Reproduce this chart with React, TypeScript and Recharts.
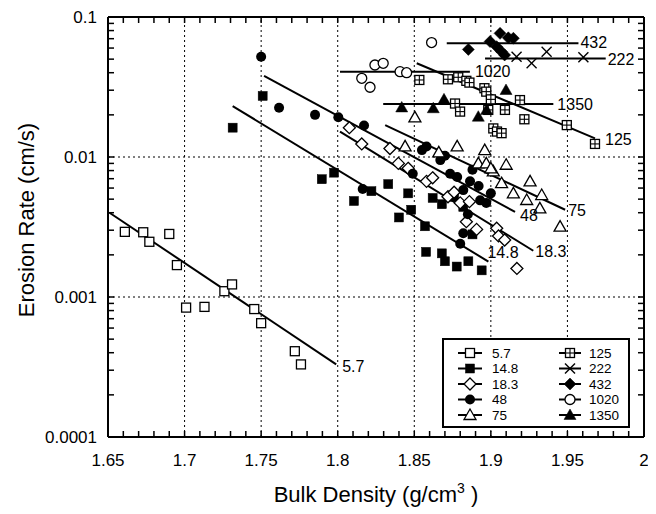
import React from 'react';
import { ComposedChart, XAxis, YAxis, Scatter, Line, LabelList, ReferenceLine } from 'recharts';

type P = [number, number];

// ---------- axis ticks ----------
const xTicks = [1.65, 1.7, 1.75, 1.8, 1.85, 1.9, 1.95, 2];
const yTicks = [0.0001, 0.001, 0.01, 0.1];
const xGrid = [1.7, 1.75, 1.8, 1.85, 1.9, 1.95];
const yGrid = [0.001, 0.01];
const xAllTicks = [
  1.65, 1.66, 1.67, 1.68, 1.69, 1.7, 1.71, 1.72, 1.73, 1.74, 1.75, 1.76, 1.77, 1.78, 1.79, 1.8,
  1.81, 1.82, 1.83, 1.84, 1.85, 1.86, 1.87, 1.88, 1.89, 1.9, 1.91, 1.92, 1.93, 1.94, 1.95,
  1.96, 1.97, 1.98, 1.99, 2,
];
const yAllTicks = [
  0.0001, 0.0002, 0.0003, 0.0004, 0.0005, 0.0006, 0.0007, 0.0008, 0.0009, 0.001,
  0.002, 0.003, 0.004, 0.005, 0.006, 0.007, 0.008, 0.009, 0.01,
  0.02, 0.03, 0.04, 0.05, 0.06, 0.07, 0.08, 0.09, 0.1,
];
const X_MIN = 1.65;
const X_MAX = 2;
const Y_MIN = 0.0001;
const Y_MAX = 0.1;

// ---------- data: [bulk density, erosion rate] ----------
const s5_7: P[] = [
  [1.661, 0.00292], [1.673, 0.0029], [1.677, 0.00248], [1.69, 0.00282], [1.695, 0.00169],
  [1.701, 0.00084], [1.713, 0.00085], [1.726, 0.0011], [1.731, 0.00123], [1.7455, 0.00082],
  [1.75, 0.00065], [1.772, 0.00041], [1.776, 0.00033],
];
const fit5_7: P[] = [[1.651, 0.004], [1.799, 0.00033]];

const s14_8: P[] = [
  [1.7314, 0.0162], [1.751, 0.0273], [1.7896, 0.00694], [1.7976, 0.00773], [1.8106, 0.00485],
  [1.822, 0.0057], [1.833, 0.0064], [1.846, 0.0055], [1.84, 0.0037], [1.848, 0.0042],
  [1.862, 0.0051], [1.868, 0.0046], [1.876, 0.0052], [1.882, 0.0044], [1.857, 0.0032],
  [1.8577, 0.0021], [1.868, 0.00205], [1.87, 0.0018], [1.8777, 0.00165], [1.8853, 0.0018],
  [1.894, 0.00155], [1.888, 0.0028],
];
const fit14_8: P[] = [[1.7314, 0.0231], [1.8984, 0.00179]];

const s18_3: P[] = [
  [1.8076, 0.0162], [1.8157, 0.0124], [1.8341, 0.0115], [1.8396, 0.009], [1.846, 0.0083],
  [1.858, 0.0067], [1.862, 0.0071], [1.872, 0.0052], [1.876, 0.0056], [1.88, 0.0047],
  [1.884, 0.00345], [1.8907, 0.00304], [1.9038, 0.0031], [1.905, 0.00273], [1.909, 0.00255],
  [1.917, 0.0016], [1.886, 0.0048],
];
const fit18_3: P[] = [[1.8015, 0.0152], [1.9277, 0.00214]];

const s48: P[] = [
  [1.75, 0.052], [1.7617, 0.0225], [1.7852, 0.02], [1.8004, 0.0192], [1.8172, 0.0168],
  [1.8163, 0.0059], [1.855, 0.0112], [1.858, 0.0119], [1.867, 0.0095], [1.8734, 0.0076],
  [1.878, 0.0072], [1.8864, 0.0067], [1.888, 0.0081], [1.882, 0.0058], [1.893, 0.0049],
  [1.897, 0.0047], [1.882, 0.00285], [1.88, 0.0024], [1.849, 0.0076], [1.87, 0.0102],
  [1.892, 0.0062], [1.885, 0.0039], [1.9, 0.0055],
];
const fit48: P[] = [[1.7519, 0.0379], [1.9158, 0.00405]];

const s75: P[] = [
  [1.8504, 0.0192], [1.844, 0.0119], [1.878, 0.0119], [1.896, 0.0112], [1.8918, 0.009],
  [1.897, 0.009], [1.91, 0.0088], [1.9016, 0.0079], [1.907, 0.0065], [1.9147, 0.0055],
  [1.9256, 0.0067], [1.9332, 0.00535], [1.9234, 0.00493], [1.932, 0.0043], [1.9452, 0.00318],
  [1.866, 0.0108], [1.9, 0.0083],
];
const fit75: P[] = [[1.831, 0.0169], [1.9485, 0.0042]];

const s125: P[] = [
  [1.8533, 0.0355], [1.872, 0.0359], [1.8787, 0.0371], [1.884, 0.035], [1.886, 0.034],
  [1.8958, 0.031], [1.897, 0.0293], [1.9, 0.0258], [1.8766, 0.0241], [1.8799, 0.0211],
  [1.8983, 0.0217], [1.9092, 0.0217], [1.919, 0.0255], [1.9219, 0.0186], [1.9016, 0.016],
  [1.904, 0.0152], [1.907, 0.0148], [1.9496, 0.0169], [1.968, 0.0124],
];
const fit125: P[] = [[1.8516, 0.0467], [1.968, 0.0136]];

const s222: P[] = [[1.9168, 0.052], [1.9266, 0.0467], [1.9364, 0.0565], [1.9604, 0.0515]];
const fit222: P[] = [[1.8962, 0.0506], [1.975, 0.0506]];

const s432: P[] = [
  [1.8853, 0.0587], [1.8995, 0.0667], [1.906, 0.0764], [1.9114, 0.071], [1.9147, 0.0705],
  [1.9038, 0.0614], [1.907, 0.0565], [1.909, 0.0535],
];
const fit432: P[] = [[1.8712, 0.0649], [1.9572, 0.0649]];

const s1020: P[] = [
  [1.8613, 0.0657], [1.8243, 0.0454], [1.8297, 0.0467], [1.8157, 0.0365], [1.8211, 0.0315],
  [1.8407, 0.0407], [1.845, 0.04],
];
const fit1020: P[] = [[1.8015, 0.0407], [1.8863, 0.0407]];

const s1350: P[] = [
  [1.8418, 0.0226], [1.8624, 0.0223], [1.8694, 0.0258], [1.8918, 0.0194], [1.8972, 0.0217],
  [1.9099, 0.0301],
];
const fit1350: P[] = [[1.8297, 0.0239], [1.9408, 0.0239]];

// ---------- series configuration (styles) ----------
type Kind =
  | 'sqOpen' | 'sqFill' | 'diaOpen' | 'circFill' | 'triOpen'
  | 'sqCross' | 'cross' | 'diaFill' | 'circOpen' | 'triFill';

const seriesList: { name: string; pts: P[]; fit: P[]; kind: Kind; dx: number; dy: number }[] = [
  { name: '5.7', pts: s5_7, fit: fit5_7, kind: 'sqOpen', dx: 6, dy: 2 },
  { name: '14.8', pts: s14_8, fit: fit14_8, kind: 'sqFill', dx: -1, dy: -9 },
  { name: '18.3', pts: s18_3, fit: fit18_3, kind: 'diaOpen', dx: 2, dy: 1 },
  { name: '48', pts: s48, fit: fit48, kind: 'circFill', dx: 5, dy: 4 },
  { name: '75', pts: s75, fit: fit75, kind: 'triOpen', dx: 3, dy: 1 },
  { name: '125', pts: s125, fit: fit125, kind: 'sqCross', dx: 10, dy: 1 },
  { name: '222', pts: s222, fit: fit222, kind: 'cross', dx: 2, dy: 1 },
  { name: '432', pts: s432, fit: fit432, kind: 'diaFill', dx: 2, dy: -1 },
  { name: '1020', pts: s1020, fit: fit1020, kind: 'circOpen', dx: 5, dy: 0 },
  { name: '1350', pts: s1350, fit: fit1350, kind: 'triFill', dx: 4, dy: 0 },
];

const FONT = '"Liberation Sans", Arial, Helvetica, sans-serif';

function drawMarker(kind: Kind, cx: number, cy: number): React.ReactElement {
  const sw = 1.3;
  switch (kind) {
    case 'sqOpen':
      return <rect x={cx - 4.5} y={cy - 4.5} width={9} height={9} fill="#fff" stroke="#000" strokeWidth={sw} />;
    case 'sqFill':
      return <rect x={cx - 4.5} y={cy - 4.5} width={9} height={9} fill="#000" stroke="#000" strokeWidth={0.5} />;
    case 'diaOpen':
      return (
        <polygon
          points={`${cx},${cy - 6} ${cx + 6},${cy} ${cx},${cy + 6} ${cx - 6},${cy}`}
          fill="#fff" stroke="#000" strokeWidth={sw}
        />
      );
    case 'diaFill':
      return (
        <polygon
          points={`${cx},${cy - 6} ${cx + 6},${cy} ${cx},${cy + 6} ${cx - 6},${cy}`}
          fill="#000" stroke="#000" strokeWidth={0.5}
        />
      );
    case 'circFill':
      return <circle cx={cx} cy={cy} r={5} fill="#000" />;
    case 'circOpen':
      return <circle cx={cx} cy={cy} r={5} fill="#fff" stroke="#000" strokeWidth={sw} />;
    case 'triOpen':
      return (
        <polygon
          points={`${cx},${cy - 6} ${cx + 6},${cy + 4.5} ${cx - 6},${cy + 4.5}`}
          fill="#fff" stroke="#000" strokeWidth={sw}
        />
      );
    case 'triFill':
      return (
        <polygon
          points={`${cx},${cy - 6} ${cx + 6},${cy + 4.5} ${cx - 6},${cy + 4.5}`}
          fill="#000" stroke="#000" strokeWidth={0.5}
        />
      );
    case 'sqCross':
      return (
        <g>
          <rect x={cx - 4.5} y={cy - 4.5} width={9} height={9} fill="#fff" stroke="#000" strokeWidth={sw} />
          <line x1={cx} y1={cy - 4.5} x2={cx} y2={cy + 4.5} stroke="#000" strokeWidth={1.1} />
          <line x1={cx - 4.5} y1={cy} x2={cx + 4.5} y2={cy} stroke="#000" strokeWidth={1.1} />
        </g>
      );
    case 'cross':
    default:
      return (
        <g>
          <line x1={cx - 5} y1={cy - 5} x2={cx + 5} y2={cy + 5} stroke="#000" strokeWidth={1.4} />
          <line x1={cx - 5} y1={cy + 5} x2={cx + 5} y2={cy - 5} stroke="#000" strokeWidth={1.4} />
        </g>
      );
  }
}

const toPts = (arr: P[]) => arr.map(([x, y]) => ({ x, y }));
const toFit = (arr: P[], name: string) =>
  arr.map(([x, y], i) => ({ x, y, lbl: i === arr.length - 1 ? name : undefined }));

const isMajor = (list: number[], v: number) => list.some((t) => Math.abs(t - v) < 1e-9);
const fmtX = (v: number) => (isMajor(xTicks, v) ? String(v) : '');
const fmtY = (v: number) => (isMajor(yTicks, v) ? String(v) : '');
const blank = () => '';

const makeLabel = (dx: number, dy: number) => (props: any) => {
  const { x, y, value } = props;
  if (value === undefined || value === null || value === '') return null;
  return (
    <text
      x={Number(x) + dx}
      y={Number(y) + dy}
      fontSize={16}
      fontFamily={FONT}
      fill="#000"
      textAnchor="start"
      dominantBaseline="central"
    >
      {value}
    </text>
  );
};

const legendLeft = seriesList.slice(0, 5);
const legendRight = seriesList.slice(5);
const legendRows = [14, 29.5, 45, 60.5, 76];

function LegendBox() {
  return (
    <svg
      width={190}
      height={92}
      style={{ position: 'absolute', left: 434, top: 330 }}
    >
      <rect x={1} y={1} width={186} height={88} fill="#fff" stroke="#000" strokeWidth={2} />
      {legendLeft.map((s, i) => (
        <g key={s.name}>
          <line x1={16} y1={legendRows[i] + 1} x2={40} y2={legendRows[i] + 1} stroke="#000" strokeWidth={2} />
          {drawMarker(s.kind, 28, legendRows[i] + 1)}
          <text x={50} y={legendRows[i] + 1} fontSize={13.5} fontFamily={FONT} dominantBaseline="central">
            {s.name}
          </text>
        </g>
      ))}
      {legendRight.map((s, i) => (
        <g key={s.name}>
          <line x1={117} y1={legendRows[i] + 1} x2={139} y2={legendRows[i] + 1} stroke="#000" strokeWidth={2} />
          {drawMarker(s.kind, 128, legendRows[i] + 1)}
          <text x={147} y={legendRows[i] + 1} fontSize={13.5} fontFamily={FONT} dominantBaseline="central">
            {s.name}
          </text>
        </g>
      ))}
    </svg>
  );
}

export default function App() {
  const border = { stroke: '#000', strokeWidth: 2 };
  const tickLine = { stroke: '#000', strokeWidth: 1.5 };
  const gridStyle = { stroke: '#000', strokeWidth: 1, strokeDasharray: '2 3' };
  return (
    <div style={{ position: 'relative', width: 648, height: 506, fontFamily: FONT }}>
      <ComposedChart width={648} height={506} margin={{ top: 0, right: 0, bottom: 0, left: 0 }}>
        {/* bottom axis: inward ticks every 0.01, labels every 0.05 */}
        <XAxis
          xAxisId={0}
          type="number"
          dataKey="x"
          domain={[X_MIN, X_MAX]}
          ticks={xAllTicks}
          interval={0}
          allowDataOverflow
          height={77}
          tickLine={tickLine}
          tickSize={-6}
          tickMargin={23}
          axisLine={border}
          tick={{ fill: '#000', fontSize: 17, fontFamily: FONT }}
          tickFormatter={fmtX}
          label={{
            content: (p: any) => {
              const vb = p.viewBox || {};
              const cx = vb.x + vb.width / 2;
              return (
                <text x={cx} y={494} textAnchor="middle" fontSize={22} fontFamily={FONT} fill="#000">
                  <tspan>Bulk Density (g/cm</tspan>
                  <tspan dy={-9} fontSize={14}>3</tspan>
                  <tspan dy={9}> )</tspan>
                </text>
              );
            },
          }}
        />
        {/* top frame with inward ticks */}
        <XAxis
          xAxisId="top"
          orientation="top"
          type="number"
          dataKey="x"
          domain={[X_MIN, X_MAX]}
          ticks={xAllTicks}
          interval={0}
          allowDataOverflow
          height={9}
          tickLine={tickLine}
          tickSize={-6}
          tickMargin={0}
          axisLine={border}
          tick={{ fontSize: 1, fill: 'none' }}
          tickFormatter={blank}
        />
        {/* left axis: inward log ticks, labels at decades */}
        <YAxis
          yAxisId={0}
          type="number"
          dataKey="y"
          scale="log"
          domain={[Y_MIN, Y_MAX]}
          ticks={yAllTicks}
          interval={0}
          allowDataOverflow
          width={100}
          tickLine={tickLine}
          tickSize={-6}
          tickMargin={17}
          axisLine={border}
          tick={{ fill: '#000', fontSize: 17, fontFamily: FONT }}
          tickFormatter={fmtY}
          label={{
            content: (p: any) => {
              const vb = p.viewBox || {};
              const cy = vb.y + vb.height / 2 - 7;
              return (
                <text
                  x={18}
                  y={cy}
                  transform={`rotate(-90, 18, ${cy})`}
                  textAnchor="middle"
                  dominantBaseline="central"
                  fontSize={22}
                  fontFamily={FONT}
                  fill="#000"
                >
                  Erosion Rate (cm/s)
                </text>
              );
            },
          }}
        />
        {/* right frame with inward ticks */}
        <YAxis
          yAxisId="right"
          orientation="right"
          type="number"
          dataKey="y"
          scale="log"
          domain={[Y_MIN, Y_MAX]}
          ticks={yAllTicks}
          interval={0}
          allowDataOverflow
          width={12}
          tickLine={tickLine}
          tickSize={-6}
          tickMargin={0}
          axisLine={border}
          tick={{ fontSize: 1, fill: 'none' }}
          tickFormatter={blank}
        />
        {/* dotted grid at the labelled values */}
        {xGrid.map((v) => (
          <ReferenceLine key={'gx' + v} x={v} {...gridStyle} />
        ))}
        {yGrid.map((v) => (
          <ReferenceLine key={'gy' + v} y={v} {...gridStyle} />
        ))}
        {seriesList.map((s, i) => (
          <Scatter
            key={'s' + s.name}
            name={s.name}
            data={toPts(s.pts)}
            dataKey="y"
            xAxisId={i === 0 ? 'top' : 0}
            yAxisId={i === 0 ? 'right' : 0}
            isAnimationActive={false}
            shape={(props: any) => drawMarker(s.kind, props.cx, props.cy)}
          />
        ))}
        {seriesList.map((s) => (
          <Line
            key={'l' + s.name}
            data={toFit(s.fit, s.name)}
            dataKey="y"
            xAxisId={0}
            yAxisId={0}
            stroke="#000"
            strokeWidth={2}
            dot={false}
            activeDot={false}
            isAnimationActive={false}
          >
            <LabelList dataKey="lbl" content={makeLabel(s.dx, s.dy)} />
          </Line>
        ))}
      </ComposedChart>
      <LegendBox />
    </div>
  );
}
